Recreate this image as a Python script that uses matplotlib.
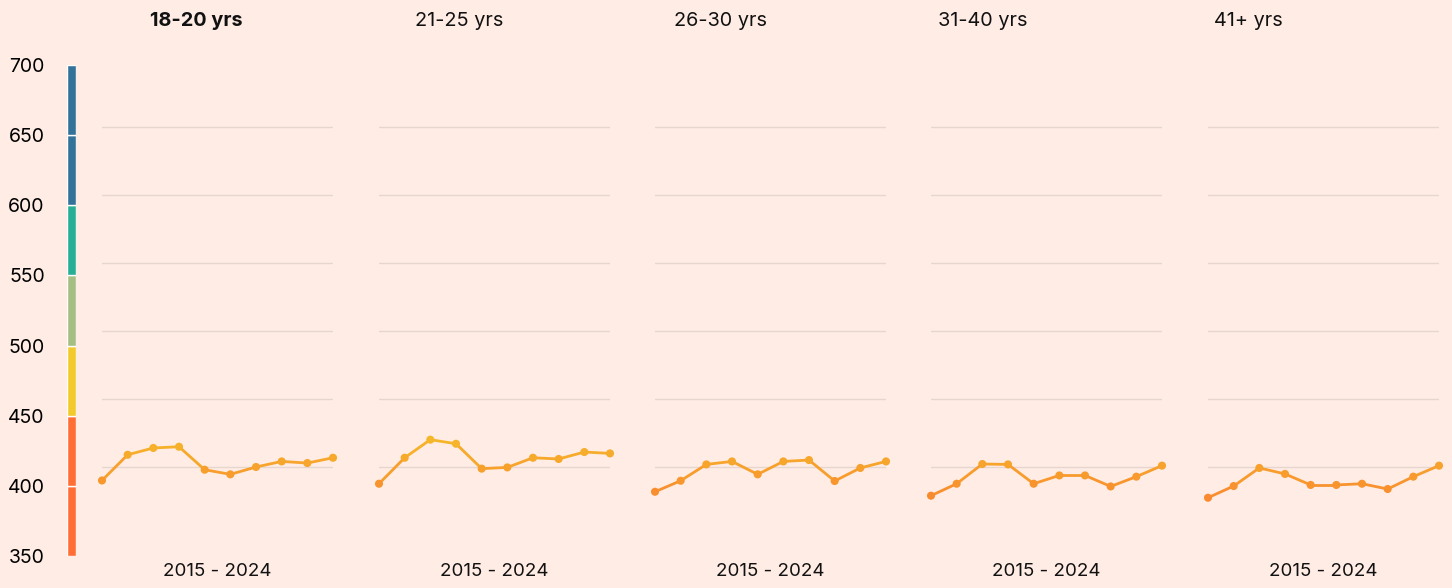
import numpy as np
import matplotlib
matplotlib.use("Agg")
import matplotlib.pyplot as plt
from matplotlib.collections import LineCollection
from matplotlib.colors import LinearSegmentedColormap

plt.rcParams['font.family'] = ['Inter', 'DejaVu Sans']

# data
groups = ["18-20 yrs", "21-25 yrs", "26-30 yrs", "31-40 yrs", "41+ yrs"]
years = np.arange(2015, 2025)
s_18_20 = [390.1, 409.0, 414.0, 414.9, 398.0, 394.6, 400.0, 404.1, 402.9, 406.8]
s_21_25 = [387.7, 406.8, 420.1, 417.1, 398.8, 399.7, 406.8, 405.9, 411.0, 410.0]
s_26_30 = [381.8, 389.9, 401.9, 404.1, 394.6, 404.1, 405.1, 389.7, 399.3, 404.1]
s_31_40 = [378.9, 387.7, 402.2, 401.9, 387.7, 393.8, 393.8, 385.7, 392.9, 401.0]
s_41 = [377.4, 386.0, 399.3, 394.9, 386.8, 386.8, 387.7, 383.8, 392.9, 401.0]
series = [s_18_20, s_21_25, s_26_30, s_31_40, s_41]

# colour bands of the scale
band_lo = [350, 400, 450, 500, 550, 600, 650]
band_colors = ["#FF6E35", "#FF6E35", "#F3CA2C", "#A5BE83", "#27AF95", "#347399", "#347399"]
scale_ticks = [350, 400, 450, 500, 550, 600, 650, 700]

bg = "#FFECE5"
W, H = 1452, 588
fig = plt.figure(figsize=(W / 100, H / 100), dpi=100, facecolor=bg)

cmap = LinearSegmentedColormap.from_list("ln", ["#F98A2F", "#F5BA29"])

# colour scale on the left
cax = fig.add_axes([67 / W, (H - 556) / H, 9 / W, (556 - 65) / H])
cax.set_facecolor(bg)
for lo, c in zip(band_lo, band_colors):
    cax.bar(0, 50, bottom=lo, width=1, color=c, edgecolor="white", linewidth=1)
cax.set_xlim(-0.5, 0.5)
cax.set_ylim(350, 700)
cax.set_xticks([])
cax.set_yticks(scale_ticks)
cax.tick_params(axis="y", length=0, pad=16, labelsize=14)
for sp in cax.spines.values():
    sp.set_visible(False)

lefts = [102, 379, 655, 931, 1208]
title_x = [150, 415, 674, 938, 1214]
pw = 231
for i, (g, vals) in enumerate(zip(groups, series)):
    ax = fig.add_axes([lefts[i] / W, (H - 535) / H, pw / W, (535 - 59) / H])
    ax.set_facecolor("none")
    ax.set_xlim(years[0], years[-1])
    ax.set_ylim(350, 700)
    for gy in range(400, 700, 50):
        ax.axhline(gy, color="#E6D6D0", linewidth=1, zorder=1)
    v = np.array(vals)
    pts = np.column_stack([years, v]).reshape(-1, 1, 2)
    segs = np.concatenate([pts[:-1], pts[1:]], axis=1)
    mid = (v[:-1] + v[1:]) / 2
    lc = LineCollection(segs, colors=cmap((mid - 378) / 45), linewidth=2.0, zorder=2,
                        capstyle="round", joinstyle="round")
    ax.add_collection(lc)
    ax.scatter(years, v, s=34, c=cmap((v - 378) / 45), zorder=3, linewidths=0, clip_on=False)
    ax.axis("off")

    fig.text(title_x[i] / W, (H - 21) / H, g, ha="left", va="center", fontsize=14.3,
             fontweight="bold" if i == 0 else "normal", color="#111111")
    fig.text((lefts[i] + pw / 2) / W, (H - 571) / H, "2015 - 2024", ha="center",
             va="center", fontsize=13.5, color="#111111")

fig.savefig("out.png", dpi=100, facecolor=bg)
